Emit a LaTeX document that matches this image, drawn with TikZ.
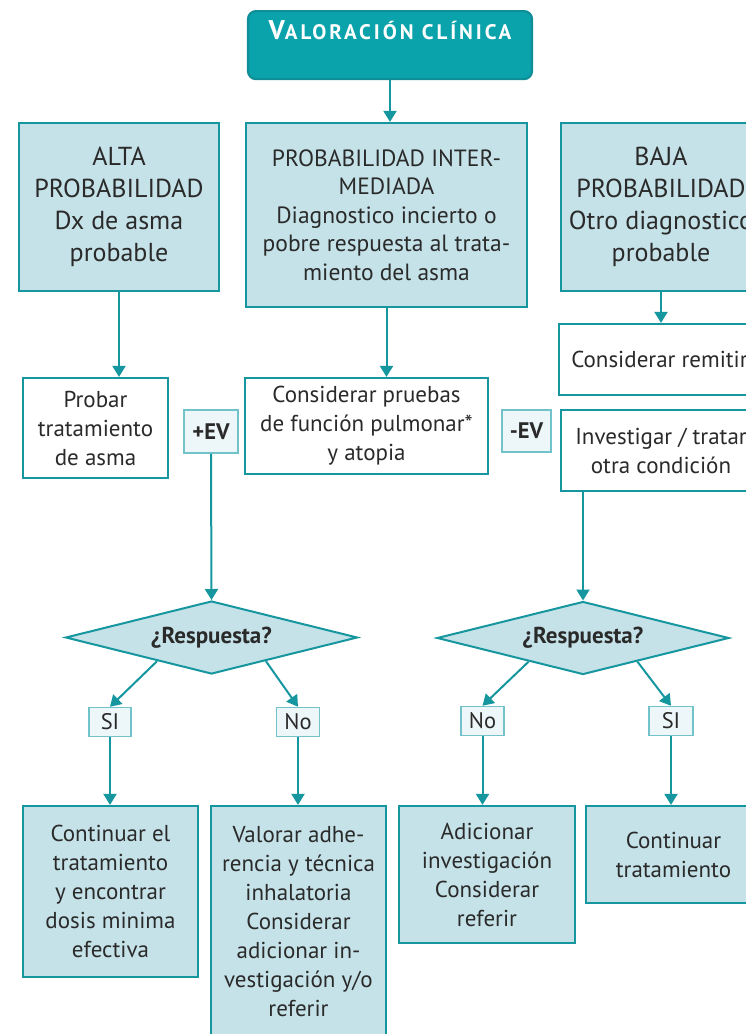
\documentclass[tikz,border=0pt]{standalone}
\usepackage{fontspec}
\setmainfont{PT Sans}
\usetikzlibrary{arrows.meta,shapes.geometric,calc}

\definecolor{tealosc}{HTML}{0AA2AB}
\definecolor{bordeT}{HTML}{0F8E97}
\definecolor{celeste}{HTML}{C5E2E8}
\definecolor{linea}{HTML}{16969F}
\definecolor{etiq}{HTML}{EDF6F8}
\definecolor{bordeE}{HTML}{72C2CA}
\definecolor{texto}{HTML}{2A2A2A}

\newcommand{\tamano}[2]{\fontsize{#1}{#2}\selectfont}

\begin{document}
\begin{tikzpicture}[x=1pt,y=-1pt,
    caja/.style={draw=linea, line width=2.2pt, fill=celeste, text=texto,
      align=center, inner sep=0pt, font=\tamano{23}{29}},
    blanca/.style={caja, fill=white},
    etiqueta/.style={draw=bordeE, line width=1.5pt, fill=etiq, text=texto,
      inner sep=0pt, minimum height=29pt, font=\tamano{22.5}{24}},
    decision/.style={diamond, aspect=4, draw=linea, line width=2pt, fill=celeste,
      text=texto, inner sep=0pt, minimum width=292pt, minimum height=73pt,
      font=\bfseries\tamano{23}{26}},
    flecha/.style={draw=linea, line width=2pt, -{Triangle[width=13pt,length=11pt]}}]

  \path[use as bounding box, clip] (0,0) rectangle (746,1034);

  % inicio
  \node[caja, fill=tealosc, draw=bordeT, rounded corners=8pt, anchor=north,
    minimum width=284pt, text height=15pt, text depth=27pt, inner ysep=13pt,
    text=white, font=\bfseries] (titulo) at (390,10)
    {\addfontfeature{LetterSpace=14}\tamano{27}{28}V\tamano{21}{28}ALORACIÓN CLÍNICA};

  % probabilidad
  \node[caja, minimum width=200pt, minimum height=168pt, font=\tamano{26}{32}]
    (alta) at (119,207) {ALTA\\PROBABILIDAD\\Dx de asma\\probable};
  \node[caja, minimum width=281pt, minimum height=184pt, font=\tamano{23.5}{28.5}]
    (media) at (386.5,215) {PROBABILIDAD INTER-\\MEDIADA\\Diagnostico incierto o\\pobre respuesta al trata-\\miento del asma};
  \node[caja, minimum width=200pt, minimum height=168pt, font=\tamano{26}{32}]
    (baja) at (661,207) {BAJA\\PROBABILIDAD\\Otro diagnostico\\probable};

  % conducta
  \node[blanca, minimum width=145pt, minimum height=100pt] (probar) at (95.5,428)
    {Probar\\tratamiento\\de asma};
  \node[blanca, minimum width=243pt, minimum height=96pt] (pruebas) at (366.5,426)
    {Considerar pruebas\\de función pulmonar*\\y atopia};
  \node[blanca, minimum width=201pt, minimum height=71pt] (remitir) at (659.5,359.5)
    {Considerar remitir};
  \node[blanca, minimum width=200pt, minimum height=81pt] (investigar) at (661,450.5)
    {Investigar / tratar\\otra condición};

  \node[etiqueta, minimum width=54pt, minimum height=43pt, font=\bfseries\tamano{22.5}{24}]
    (masEV) at (211,431.5) {+EV};
  \node[etiqueta, minimum width=49pt, minimum height=42pt, font=\bfseries\tamano{22.5}{24}]
    (menosEV) at (526.5,431) {-EV};

  % respuesta
  \node[decision] (resp1) at (211.5,637.5) {¿Respuesta?};
  \node[decision] (resp2) at (583,638) {¿Respuesta?};

  \node[etiqueta, minimum width=42pt] (si1) at (110,722) {SI};
  \node[etiqueta, minimum width=43pt] (no1) at (298,722) {No};
  \node[etiqueta, minimum width=43pt] (no2) at (482.5,721) {No};
  \node[etiqueta, minimum width=44pt] (si2) at (671,721) {SI};

  % desenlaces
  \node[caja, minimum width=175pt, minimum height=171pt] (seguir) at (110.5,891.5)
    {Continuar el\\tratamiento\\y encontrar\\dosis minima\\efectiva};
  \node[caja, minimum width=175pt, minimum height=232pt] (adherencia) at (298.5,922)
    {Valorar adhe-\\rencia y técnica\\inhalatoria\\Considerar\\adicionar in-\\vestigación y/o\\referir};
  \node[caja, minimum width=176pt, minimum height=137pt] (adicionar) at (487,874.5)
    {Adicionar\\investigación\\Considerar\\referir};
  \node[caja, minimum width=175pt, minimum height=97pt] (continuar) at (673.5,854.5)
    {Continuar\\tratamiento};

  \begin{scope}[flecha]
    \draw (titulo.south) -- (titulo.south |- media.north);
    \draw (alta.south) -- (alta.south |- probar.north);
    \draw (media.south) -- (media.south |- pruebas.north);
    \draw (baja.south) -- (baja.south |- remitir.north);
    \draw (masEV.south) -- (resp1.north);
    \draw (investigar.south -| resp2.north) -- (resp2.north);
    \draw ($(resp1.south)!0.37!(resp1.west)$) -- (si1.north);
    \draw ($(resp1.south)!0.37!(resp1.east)$) -- (no1.north);
    \draw ($(resp2.south)!0.37!(resp2.west)$) -- (no2.north);
    \draw ($(resp2.south)!0.37!(resp2.east)$) -- (si2.north);
    \draw (si1.south) -- (si1.south |- seguir.north);
    \draw (no1.south) -- (no1.south |- adherencia.north);
    \draw (no2.south) -- (no2.south |- adicionar.north);
    \draw (si2.south) -- (si2.south |- continuar.north);
  \end{scope}
\end{tikzpicture}
\end{document}
